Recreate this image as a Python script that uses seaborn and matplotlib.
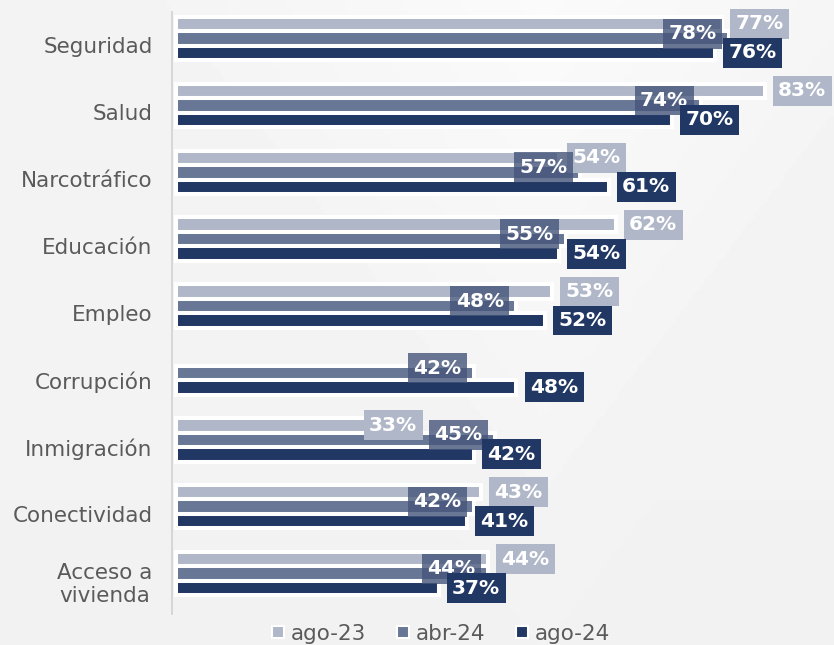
import numpy as np
import pandas as pd
import matplotlib.pyplot as plt
from matplotlib.lines import Line2D
import seaborn as sns

# Data
categorias = ['Seguridad', 'Salud', 'Narcotráfico', 'Educación', 'Empleo',
              'Corrupción', 'Inmigración', 'Conectividad', 'Acceso a\nvivienda']
periodos = ['ago-23', 'abr-24', 'ago-24']
ago23 = [77, 83, 54, 62, 53, np.nan, 33, 43, 44]
abr24 = [78, 74, 57, 55, 48, 42, 45, 42, 44]
ago24 = [76, 70, 61, 54, 52, 48, 42, 41, 37]

colores = ['#b0b7c8', '#687796', '#223864']
caja_colores = ['#b0b7c8', '#45557a', '#223864']
caja_alpha = [1.0, 0.8, 1.0]
gris = '#5a5a5a'

df = pd.DataFrame({
    'categoria': categorias * 3,
    'periodo': np.repeat(periodos, len(categorias)),
    'valor': ago23 + abr24 + ago24,
}).dropna()

sns.set_style('white')
plt.rcParams['font.family'] = ['DejaVu Sans']

fig = plt.figure(figsize=(8.34, 6.45), dpi=100)

# soft grey background
bg = fig.add_axes([0, 0, 1, 1], zorder=-10)
yy, xx = np.mgrid[0:1:200j, 0:1:200j]
grad = 0.957 + 0.025 * np.clip(1 - np.abs(xx - 0.65) * 2.2 - yy * 0.9, 0, 1) - 0.01 * yy
bg.imshow(grad, cmap='gray', vmin=0, vmax=1, aspect='auto', extent=[0, 1, 0, 1])
bg.axis('off')

ax = fig.add_axes([172 / 834, 31 / 645, 662 / 834, 602 / 645])
ax.patch.set_alpha(0)

sns.barplot(data=df, y='categoria', x='valor', hue='periodo', order=categorias,
            hue_order=periodos, palette=colores, saturation=1, orient='h', width=0.65,
            edgecolor='white', linewidth=2.9, errorbar=None, legend=False, ax=ax)

ax.set_xlim(-0.6, 92.8)
ax.set_ylim(len(categorias) - 0.5, -0.5)

# bars sit a little above the category centre in the original
shift = 0.104
for cont in ax.containers:
    for bar in cont:
        bar.set_y(bar.get_y() - shift)

abr_por_cat = dict(zip(categorias, abr24))
for i, cont in enumerate(ax.containers):
    cats = df.loc[df['periodo'] == periodos[i], 'categoria'].tolist()
    for bar, cat in zip(cont, cats):
        w = bar.get_width()
        yc = bar.get_y() + bar.get_height() / 2
        dy = 0
        if i == 1:
            off, ha, dy = -9, 'right', 3.5
        elif i == 0 and abr_por_cat[cat] - w > 8:
            # much shorter ago-23 bar: label tucked over the bar end
            off, ha = 5, 'right'
        else:
            off, ha = 9.7, 'left'
        ax.annotate(f'{w:.0f}%', xy=(w, yc), xytext=(off, dy),
                    textcoords='offset points', ha=ha, va='center',
                    fontsize=14.5, fontweight='bold',
                    color='white', zorder=5 + i,
                    bbox=dict(boxstyle='square,pad=0.27', fc=caja_colores[i],
                              ec='none', alpha=caja_alpha[i]))

ax.set_xlabel('')
ax.set_ylabel('')
ax.set_xticks([])
ax.set_yticks(range(len(categorias)))
ax.set_yticklabels(categorias)
ax.set_yticks(np.arange(len(categorias) + 1) - 0.5, minor=True)
ax.tick_params(axis='y', which='major', length=0, pad=14, labelsize=15.5, labelcolor=gris)
ax.tick_params(axis='y', which='minor', length=5, width=1.3, color='#d4d4d4', direction='out')
for lab in ax.get_yticklabels():
    lab.set_multialignment('center')

for s in ['top', 'right', 'bottom']:
    ax.spines[s].set_visible(False)
ax.spines['left'].set_color('#d4d4d4')
ax.spines['left'].set_linewidth(1.3)
ax.spines['left'].set_zorder(10)

handles = [Line2D([], [], marker='s', ls='', markersize=8, markerfacecolor=c,
                  markeredgecolor='white', markeredgewidth=1.5) for c in colores]
fig.legend(handles, periodos, loc='center', bbox_to_anchor=(440 / 834, 1 - 634 / 645),
           ncol=3, frameon=False, fontsize=15.5, handletextpad=0.2, columnspacing=1.3,
           labelcolor=gris, handlelength=0.8)

fig.savefig('out.png', dpi=100)
